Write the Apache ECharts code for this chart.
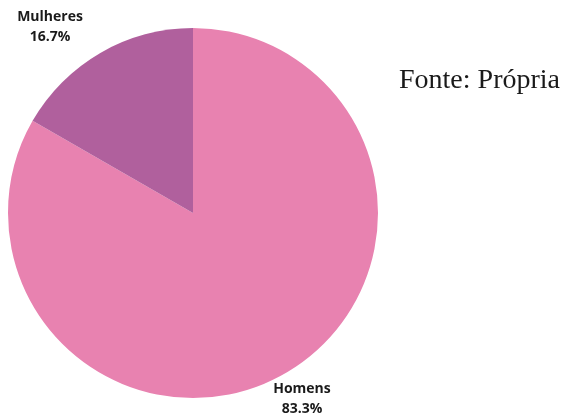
<!DOCTYPE html>
<html>
<head>
<meta charset="utf-8">
<script src="https://cdn.jsdelivr.net/npm/echarts@6/dist/echarts.min.js"></script>
<style>html,body{margin:0;padding:0;background:#fff;}#c{width:566px;height:419px;}</style>
</head>
<body>
<div id="c"></div>
<script>
const categories = ['Homens', 'Mulheres'];
const values = [83.3, 16.7];
const colors = ['#e882b0', '#b0609d'];
const sourceText = 'Fonte: Própria';

const chart = echarts.init(document.getElementById('c'), null, {renderer: 'canvas'});
const labelPos = {
  0: {x: 302, y: 399},
  1: {x: 50, y: 27}
};
chart.setOption({
  animation: false,
  graphic: [{
    type: 'text',
    left: 399,
    top: 67,
    style: {
      text: sourceText,
      font: '28px "Liberation Serif", serif',
      fill: '#1a1a1a'
    }
  }],
  series: [{
    type: 'pie',
    center: [193, 213],
    radius: 185,
    startAngle: 90,
    clockwise: true,
    data: categories.map((c, i) => ({name: c, value: values[i], itemStyle: {color: colors[i]}})),
    label: {
      show: true,
      formatter: p => p.name + '\n' + p.value.toFixed(1) + '%',
      fontFamily: '"Open Sans", sans-serif',
      fontWeight: 'bold',
      fontSize: 14,
      lineHeight: 20,
      color: '#1a1a1a',
      align: 'center',
      overflow: 'none',
      width: 120
    },
    labelLine: {show: false},
    labelLayout: function (params) {
      const p = labelPos[params.dataIndex];
      return {x: p.x, y: p.y, align: 'center', verticalAlign: 'middle'};
    }
  }]
});
</script>
</body>
</html>
